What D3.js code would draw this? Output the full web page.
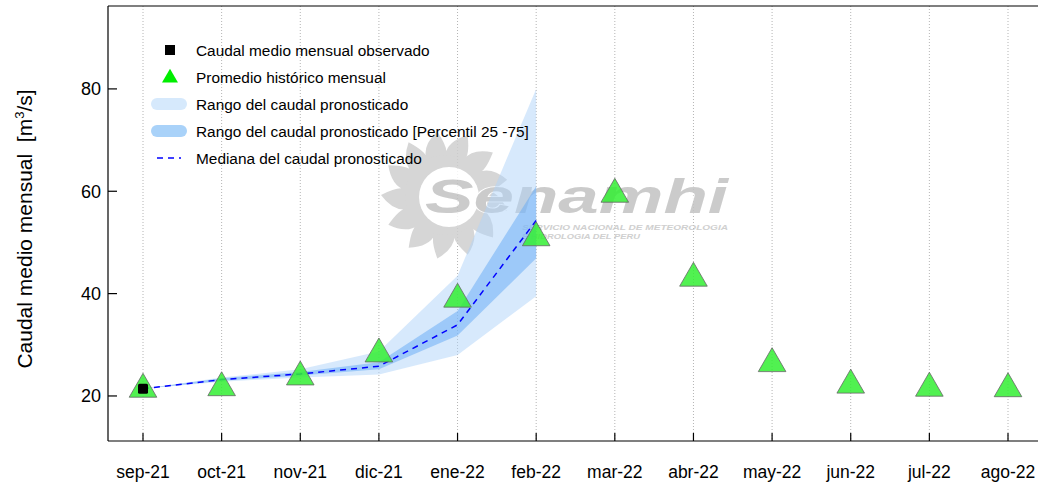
<!DOCTYPE html>
<html>
<head>
<meta charset="utf-8">
<script src="https://cdn.jsdelivr.net/npm/d3@7"></script>
<style>
  body { margin: 0; background: #fff; }
  svg { display: block; font-family: "Liberation Sans", Arial, sans-serif; }
</style>
</head>
<body>
<svg id="chart" width="1038" height="488"></svg>
<script>
// ---- data ----
const months = ["sep-21","oct-21","nov-21","dic-21","ene-22","feb-22","mar-22","abr-22","may-22","jun-22","jul-22","ago-22"];
const historico = [21.9, 22.2, 24.3, 28.8, 39.5, 51.5, 60.0, 43.6, 26.9, 22.7, 22.1, 22.0];
const observadoMes = ["sep-21"];
const observado = [21.4];
const pronoMeses = ["sep-21","oct-21","nov-21","dic-21","ene-22","feb-22"];
const rangoMin = [21.4, 22.8, 23.6, 24.2, 28.0, 39.5];
const rangoMax = [21.4, 23.6, 25.2, 28.7, 43.5, 80.0];
const p25 = [21.4, 22.95, 24.0, 25.2, 31.8, 46.9];
const p75 = [21.4, 23.45, 24.7, 26.6, 36.6, 61.0];
const mediana = [21.4, 23.2, 24.3, 25.8, 33.9, 54.3];
const yTicks = [20, 40, 60, 80];
const legendLabels = ["Caudal medio mensual observado","Promedio histórico mensual","Rango del caudal pronosticado","Rango del caudal pronosticado [Percentil 25 -75]","Mediana del caudal pronosticado"];

// ---- layout ----
const svg = d3.select("#chart");
const L = 108, R = 1045, T = 6, B = 441;
const x = d3.scalePoint().domain(months).range([143, 1008]).padding(0);
const y = d3.scaleLinear().domain([11.2, 96.2]).range([B, T]);

// grid
svg.append("g").selectAll("line").data(months).join("line")
  .attr("x1", d => x(d)).attr("x2", d => x(d)).attr("y1", T).attr("y2", B)
  .attr("stroke", "#b4b4b4").attr("stroke-width", 1).attr("stroke-dasharray", "1,2");

// watermark logo
const logo = svg.append("g").attr("opacity", 0.85);
(function(){
  const cx = 445, cy = 195, rIn = 40, rOut = 64, n = 13;
  let p = "";
  for (let i = 0; i < n; i++) {
    const a0 = (i / n) * 2 * Math.PI - Math.PI/2;
    const a1 = ((i + 0.5) / n) * 2 * Math.PI - Math.PI/2;
    const a2 = ((i + 1) / n) * 2 * Math.PI - Math.PI/2;
    const pA = [cx + rIn*Math.cos(a0), cy + rIn*Math.sin(a0)];
    const pT = [cx + rOut*Math.cos(a1+0.12), cy + rOut*Math.sin(a1+0.12)];
    const pC = [cx + (rOut*0.85)*Math.cos(a0+0.05), cy + (rOut*0.85)*Math.sin(a0+0.05)];
    const pB = [cx + rIn*Math.cos(a2), cy + rIn*Math.sin(a2)];
    p += (i === 0 ? "M" : "L") + pA[0] + "," + pA[1] +
      " Q" + pC[0] + "," + pC[1] + " " + pT[0] + "," + pT[1] +
      " Q" + (cx + rOut*0.7*Math.cos(a1+0.35)) + "," + (cy + rOut*0.7*Math.sin(a1+0.35)) + " " + pB[0] + "," + pB[1];
  }
  p += "Z";
  logo.append("path").attr("d", p).attr("fill", "#cfcfcf");
  logo.append("circle").attr("cx", cx).attr("cy", cy).attr("r", rIn).attr("fill", "#cfcfcf");
  logo.append("circle").attr("cx", cx + 4).attr("cy", cy + 2).attr("r", 30).attr("fill", "#ffffff");
  logo.append("text").attr("x", 425).attr("y", 213)
    .attr("font-size", 48).attr("font-weight", "bold").attr("font-style", "italic")
    .attr("textLength", 303).attr("lengthAdjust", "spacingAndGlyphs")
    .attr("fill", "#c3c3c3").attr("stroke", "#fff").attr("stroke-width", 1.5).attr("paint-order", "stroke")
    .text("Senamhi");
  logo.append("text").attr("x", 522).attr("y", 230)
    .attr("font-size", 7.5).attr("font-weight", "bold").attr("font-style", "italic")
    .attr("textLength", 206).attr("lengthAdjust", "spacingAndGlyphs")
    .attr("fill", "#c8c8c8").text("SERVICIO NACIONAL DE METEOROLOGIA");
  logo.append("text").attr("x", 522).attr("y", 239)
    .attr("font-size", 7.5).attr("font-weight", "bold").attr("font-style", "italic")
    .attr("textLength", 118).attr("lengthAdjust", "spacingAndGlyphs")
    .attr("fill", "#c8c8c8").text("E HIDROLOGIA DEL PERU");
})();

// bands
const idx = pronoMeses.map((m, i) => i);
const area = (lo, hi) => d3.area().x(i => x(pronoMeses[i])).y0(i => y(lo[i])).y1(i => y(hi[i]));
svg.append("path").attr("d", area(rangoMin, rangoMax)(idx)).attr("fill", "rgb(175,212,250)").attr("fill-opacity", 0.5);
svg.append("path").attr("d", area(p25, p75)(idx)).attr("fill", "rgb(100,170,245)").attr("fill-opacity", 0.5);

// median line
svg.append("path").attr("d", d3.line().x(i => x(pronoMeses[i])).y(i => y(mediana[i]))(idx))
  .attr("fill", "none").attr("stroke", "#0000ff").attr("stroke-width", 1.5).attr("stroke-dasharray", "6,5");

// triangles
const tri = d3.symbol().type(d3.symbolTriangle).size(330);
svg.append("g").selectAll("path").data(months).join("path")
  .attr("d", tri)
  .attr("transform", (d, i) => `translate(${x(d)},${y(historico[i]) + 3})`)
  .attr("fill", "#33ee33").attr("fill-opacity", 0.85).attr("stroke", "#666").attr("stroke-width", 0.8);

// observed
svg.append("g").selectAll("rect").data(observadoMes).join("rect")
  .attr("x", d => x(d) - 5).attr("y", (d, i) => y(observado[i]) - 5)
  .attr("width", 10).attr("height", 10).attr("rx", 1.5).attr("fill", "#000");

// axes frame
svg.append("line").attr("x1", L).attr("x2", L).attr("y1", T).attr("y2", B).attr("stroke", "#000").attr("stroke-width", 1.2);
svg.append("line").attr("x1", L).attr("x2", R).attr("y1", B).attr("y2", B).attr("stroke", "#000").attr("stroke-width", 1.2);
svg.append("line").attr("x1", L).attr("x2", R).attr("y1", T).attr("y2", T).attr("stroke", "#000").attr("stroke-width", 1.2);

// y ticks
const yg = svg.append("g");
yg.selectAll("line").data(yTicks).join("line")
  .attr("x1", L).attr("x2", L + 9).attr("y1", d => y(d)).attr("y2", d => y(d)).attr("stroke", "#000").attr("stroke-width", 1.2);
yg.selectAll("text").data(yTicks).join("text")
  .attr("x", 101).attr("y", d => y(d) + 6.5).attr("text-anchor", "end").attr("font-size", 18).text(d => d);

// x ticks
const xg = svg.append("g");
xg.selectAll("line").data(months).join("line")
  .attr("x1", d => x(d)).attr("x2", d => x(d)).attr("y1", B).attr("y2", B - 8).attr("stroke", "#000").attr("stroke-width", 1.2);
xg.selectAll("text").data(months).join("text")
  .attr("x", d => x(d)).attr("y", 478).attr("text-anchor", "middle").attr("font-size", 17.5).text(d => d);

// y title
const yt = svg.append("text").attr("transform", "translate(32,229) rotate(-90)")
  .attr("text-anchor", "middle").attr("font-size", 21).attr("xml:space", "preserve");
yt.append("tspan").text("Caudal medio mensual\u00a0\u00a0[m");
yt.append("tspan").attr("font-size", 13).attr("dy", -8).text("3");
yt.append("tspan").attr("dy", 8).text("/s]");

// legend
const lg = svg.append("g");
const rowsY = [50, 77, 104, 131, 158];
lg.selectAll("text").data(legendLabels).join("text")
  .attr("x", 196).attr("y", (d, i) => rowsY[i] + 5.5).attr("font-size", 15.4).text(d => d);
lg.append("rect").attr("x", 165).attr("y", rowsY[0] - 5).attr("width", 10).attr("height", 10).attr("fill", "#000");
lg.append("path").attr("d", d3.symbol().type(d3.symbolTriangle).size(110)).attr("transform", `translate(170,${rowsY[1] + 1})`).attr("fill", "#00ee00");
lg.append("rect").attr("x", 151).attr("y", rowsY[2] - 6).attr("width", 36).attr("height", 12).attr("rx", 6).attr("fill", "#d6e9fc");
lg.append("rect").attr("x", 151).attr("y", rowsY[3] - 6).attr("width", 36).attr("height", 12).attr("rx", 6).attr("fill", "#a9d2f9");
lg.append("line").attr("x1", 157).attr("x2", 181).attr("y1", rowsY[4]).attr("y2", rowsY[4])
  .attr("stroke", "#0000ff").attr("stroke-width", 1.5).attr("stroke-dasharray", "6,5");
</script>
</body>
</html>
